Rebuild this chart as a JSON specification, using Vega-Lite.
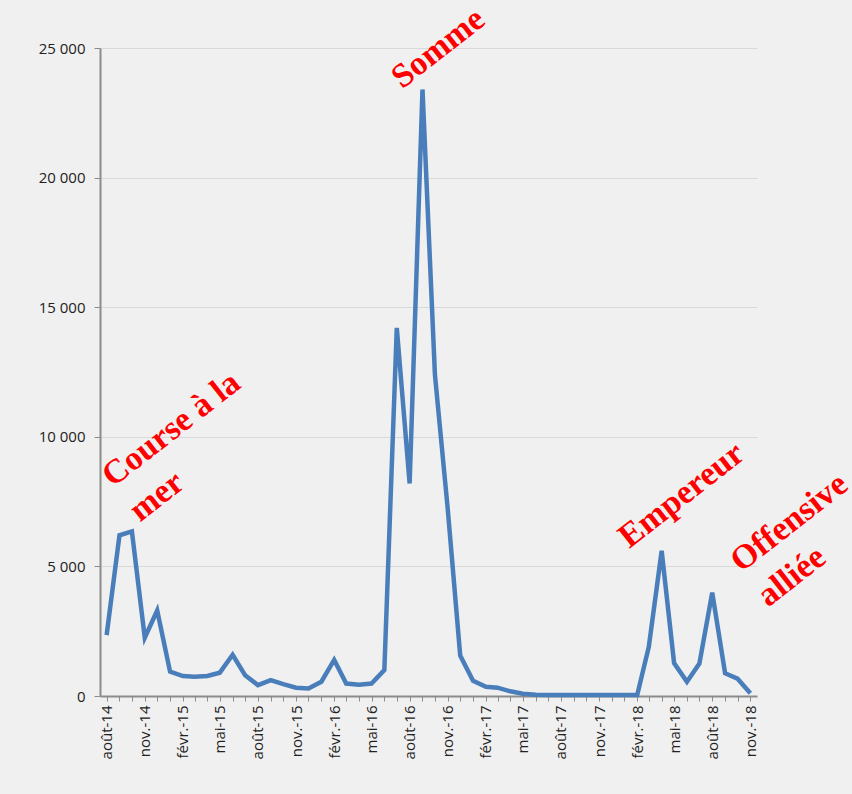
{
  "$schema": "https://vega.github.io/schema/vega-lite/v6.json",
  "width": 657,
  "height": 648,
  "autosize": {"type": "none"},
  "padding": {"left": 100, "top": 48, "right": 95, "bottom": 98},
  "background": "#f0f0f0",
  "config": {
    "locale": {
      "number": {"decimal": ",", "thousands": " ", "grouping": [3], "currency": ["", " €"]},
      "time": {
        "dateTime": "%A %e %B %Y à %X",
        "date": "%d/%m/%Y",
        "time": "%H:%M:%S",
        "periods": ["AM", "PM"],
        "days": ["dimanche", "lundi", "mardi", "mercredi", "jeudi", "vendredi", "samedi"],
        "shortDays": ["dim.", "lun.", "mar.", "mer.", "jeu.", "ven.", "sam."],
        "months": ["janvier", "février", "mars", "avril", "mai", "juin", "juillet", "août", "septembre", "octobre", "novembre", "décembre"],
        "shortMonths": ["janv.", "févr.", "mars", "avr.", "mai", "juin", "juil.", "août", "sept.", "oct.", "nov.", "déc."]
      }
    },
    "view": {"stroke": null},
    "axis": {
      "labelFont": "Open Sans",
      "labelFontSize": 15,
      "labelColor": "#222222",
      "domainColor": "#8c8c8c",
      "domainWidth": 2,
      "tickColor": "#8c8c8c",
      "tickWidth": 1,
      "title": null
    }
  },
  "datasets": {
    "pertes": [
      {"mois": "1914-08-01", "morts": 2350},
      {"mois": "1914-09-01", "morts": 6200},
      {"mois": "1914-10-01", "morts": 6350},
      {"mois": "1914-11-01", "morts": 2250},
      {"mois": "1914-12-01", "morts": 3300},
      {"mois": "1915-01-01", "morts": 940},
      {"mois": "1915-02-01", "morts": 770},
      {"mois": "1915-03-01", "morts": 745},
      {"mois": "1915-04-01", "morts": 770},
      {"mois": "1915-05-01", "morts": 900},
      {"mois": "1915-06-01", "morts": 1590},
      {"mois": "1915-07-01", "morts": 800},
      {"mois": "1915-08-01", "morts": 420},
      {"mois": "1915-09-01", "morts": 610},
      {"mois": "1915-10-01", "morts": 460},
      {"mois": "1915-11-01", "morts": 320},
      {"mois": "1915-12-01", "morts": 290},
      {"mois": "1916-01-01", "morts": 550},
      {"mois": "1916-02-01", "morts": 1390},
      {"mois": "1916-03-01", "morts": 480},
      {"mois": "1916-04-01", "morts": 430},
      {"mois": "1916-05-01", "morts": 480},
      {"mois": "1916-06-01", "morts": 1000},
      {"mois": "1916-07-01", "morts": 14200},
      {"mois": "1916-08-01", "morts": 8200},
      {"mois": "1916-09-01", "morts": 23400},
      {"mois": "1916-10-01", "morts": 12400},
      {"mois": "1916-11-01", "morts": 7200},
      {"mois": "1916-12-01", "morts": 1560},
      {"mois": "1917-01-01", "morts": 590},
      {"mois": "1917-02-01", "morts": 360},
      {"mois": "1917-03-01", "morts": 320},
      {"mois": "1917-04-01", "morts": 180},
      {"mois": "1917-05-01", "morts": 90},
      {"mois": "1917-06-01", "morts": 50},
      {"mois": "1917-07-01", "morts": 40},
      {"mois": "1917-08-01", "morts": 40},
      {"mois": "1917-09-01", "morts": 40},
      {"mois": "1917-10-01", "morts": 40},
      {"mois": "1917-11-01", "morts": 40},
      {"mois": "1917-12-01", "morts": 40},
      {"mois": "1918-01-01", "morts": 40},
      {"mois": "1918-02-01", "morts": 40},
      {"mois": "1918-03-01", "morts": 1900},
      {"mois": "1918-04-01", "morts": 5600},
      {"mois": "1918-05-01", "morts": 1270},
      {"mois": "1918-06-01", "morts": 550},
      {"mois": "1918-07-01", "morts": 1250},
      {"mois": "1918-08-01", "morts": 3990},
      {"mois": "1918-09-01", "morts": 880},
      {"mois": "1918-10-01", "morts": 670},
      {"mois": "1918-11-01", "morts": 110}
    ],
    "annotations": [
      {"date": "1914-08-16", "valeur": 8030, "texte": "Course à la\nmer"},
      {"date": "1916-07-14", "valeur": 23400, "texte": "Somme"},
      {"date": "1918-01-13", "valeur": 5670, "texte": "Empereur"},
      {"date": "1918-10-10", "valeur": 4745, "texte": "Offensive\nalliée"}
    ]
  },
  "layer": [
    {
      "data": {"name": "pertes"},
      "mark": {"type": "line", "color": "#4a7ebb", "strokeWidth": 4.5},
      "encoding": {
        "x": {
          "field": "mois",
          "type": "temporal",
          "scale": {"type": "utc", "domain": ["1914-07-16", "1918-11-17"]},
          "axis": {
            "format": "%b-%y",
            "labelExpr": "utcmonth(datum.value) % 3 == 1 ? datum.label : ''",
            "tickCount": {"interval": "month", "step": 1},
            "labelAngle": 270,
            "labelOverlap": false,
            "labelFlush": false,
            "labelPadding": 4,
            "tickSize": 5,
            "grid": false
          }
        },
        "y": {
          "field": "morts",
          "type": "quantitative",
          "scale": {"domain": [0, 25000], "nice": false},
          "axis": {
            "values": [0, 5000, 10000, 15000, 20000, 25000],
            "format": ",.0f",
            "grid": true,
            "gridColor": "#d9d9d9",
            "gridWidth": 1,
            "tickSize": 6,
            "labelPadding": 9
          }
        }
      }
    },
    {
      "data": {"name": "annotations"},
      "mark": {
        "type": "text",
        "font": "Liberation Serif",
        "fontWeight": "bold",
        "fontSize": 34,
        "color": "#ff0000",
        "angle": 322,
        "align": "left",
        "baseline": "alphabetic",
        "lineBreak": "\n",
        "lineHeight": 44
      },
      "encoding": {
        "x": {"field": "date", "type": "temporal"},
        "y": {"field": "valeur", "type": "quantitative"},
        "text": {"field": "texte"}
      }
    }
  ]
}
